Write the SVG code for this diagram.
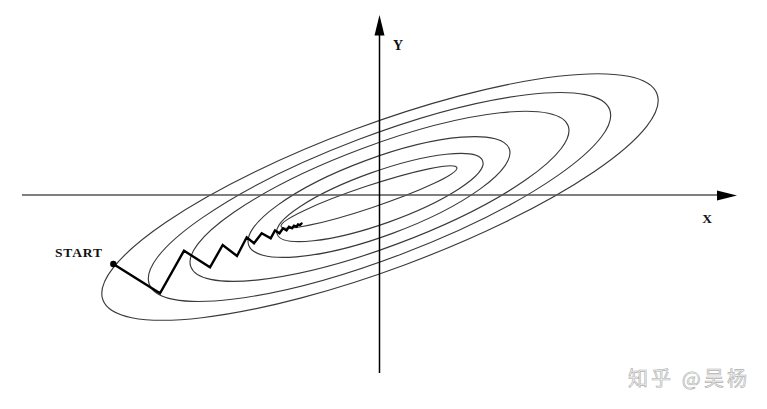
<svg xmlns="http://www.w3.org/2000/svg" width="767" height="409" viewBox="0 0 767 409">
  <style>
    .contour { fill: none; stroke: #3a3a3a; stroke-width: 1.15; }
    .axis { fill: none; stroke-width: 1.5; }
    .lbl { font-family: "Liberation Serif", "Times New Roman", serif; fill: #111; }
    .path { fill: none; stroke: #000; stroke-width: 2.4; stroke-linejoin: miter; stroke-linecap: round; }
    .wm { font-family: "Noto Sans CJK SC", "Noto Sans", sans-serif; fill: #f2f2f2; stroke: #b0b0b0; stroke-width: 0.6; }
  </style>
  <rect width="767" height="409" fill="#ffffff"/>

  <g id="contours">
    <ellipse class="contour" cx="380" cy="197" rx="295.6" ry="72.2" transform="rotate(-20.4 380 197)"/>
    <ellipse class="contour" cx="379.5" cy="197" rx="246.2" ry="61.2" transform="rotate(-20.8 379.5 197)"/>
    <ellipse class="contour" cx="379.5" cy="196.3" rx="201.4" ry="50.8" transform="rotate(-20.5 379.5 196.3)"/>
    <ellipse class="contour" cx="379" cy="197" rx="138.9" ry="38.8" transform="rotate(-20.3 379 197)"/>
    <ellipse class="contour" cx="379.9" cy="197.5" rx="109.1" ry="26.1" transform="rotate(-19.6 379.9 197.5)"/>
    <ellipse class="contour" cx="369" cy="197" rx="92.7" ry="11" transform="rotate(-18.5 369 197)"/>
  </g>

  <g id="axes">
    <line class="axis" x1="22" y1="195" x2="722" y2="195" stroke="#555"/>
    <polygon points="737,195.5 717,190.5 717,200.5" fill="#000"/>
    <line class="axis" x1="379.5" y1="32" x2="379.5" y2="373" stroke="#000"/>
    <polygon points="379.5,15 374.5,35.5 384.5,35.5" fill="#000"/>
    <text class="lbl" x="398" y="50" font-size="14" font-weight="bold" text-anchor="middle">Y</text>
    <text class="lbl" x="707" y="222.5" font-size="13.5" font-weight="bold" text-anchor="middle">X</text>
  </g>

  <g id="descent">
    <polyline class="path" points="113.3,264 160,293.3 184,250.7 210,267.3 222.7,245 237,256 246.7,237.3 254,243.3 261.7,233.3 270.7,238.3 275,230.5 279.5,233.3 283,228.3 286.5,230.3 289,226.7 292,228.3 294,225.7 296.5,226.7 298,224.5 300,225.2 301.5,223.5"/>
    <circle cx="113.3" cy="264" r="3.2" fill="#000"/>
    <text class="lbl" x="55" y="257" font-size="13.5" font-weight="bold" textLength="47" lengthAdjust="spacing">START</text>
  </g>

  <g id="watermark">
    <text class="wm" x="628" y="386" font-size="20" textLength="119" lengthAdjust="spacing">知乎 @吴杨</text>
  </g>
</svg>
